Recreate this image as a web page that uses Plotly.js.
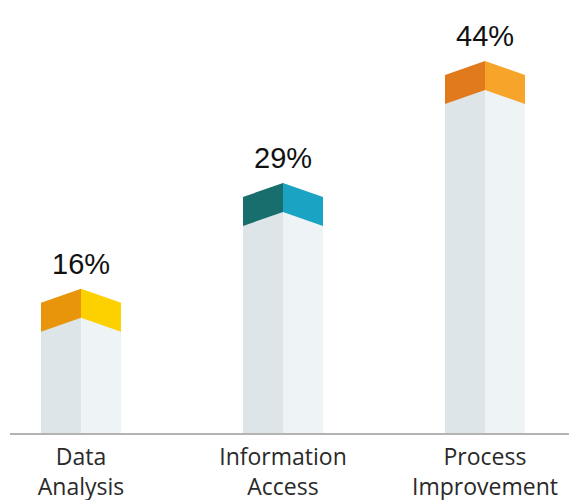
<!DOCTYPE html>
<html>
<head>
<meta charset="utf-8">
<script src="https://cdn.plot.ly/plotly-3.0.1.min.js"></script>
<style>html,body{margin:0;padding:0;background:#fff;}#chart{width:569px;height:500px;}</style>
</head>
<body>
<div id="chart"></div>
<script>
const categories = ["Data<br>Analysis", "Information<br>Access", "Process<br>Improvement"];
const values = [16, 29, 44];
const valueLabels = ["16%", "29%", "44%"];
const capLeftColors = ["#e8950c", "#186e6d", "#e07a1c"];
const capRightColors = ["#fdd100", "#1aa3c3", "#f6a52a"];

const W = 569, H = 500;
const margin = {l: 10, r: 0, t: 0, b: 67};
const plotH = H - margin.t - margin.b;
const yMax = 53.2;
const pxToY = yMax / plotH;
const rise = 14 * pxToY;      // chevron rise
const thick = 29 * pxToY;     // cap thickness
const half = 0.198;           // half bar width in x units
const xs = categories.map((_, i) => i);

const traces = [];
traces.push({
  type: "bar", x: xs, y: values, width: half, offset: -half,
  marker: {color: "#dee5e9", line: {width: 0}}, hoverinfo: "skip", showlegend: false
});
traces.push({
  type: "bar", x: xs, y: values, width: half, offset: 0,
  marker: {color: "#eef3f6", line: {width: 0}}, hoverinfo: "skip", showlegend: false
});
values.forEach((v, i) => {
  const c = xs[i];
  traces.push({
    type: "scatter", mode: "lines", fill: "toself",
    x: [c - half, c, c, c - half, c - half],
    y: [v, v + rise, v + rise - thick, v - thick, v],
    fillcolor: capLeftColors[i], line: {width: 0, color: capLeftColors[i]},
    hoverinfo: "skip", showlegend: false
  });
  traces.push({
    type: "scatter", mode: "lines", fill: "toself",
    x: [c, c + half, c + half, c, c],
    y: [v + rise, v, v - thick, v + rise - thick, v + rise],
    fillcolor: capRightColors[i], line: {width: 0, color: capRightColors[i]},
    hoverinfo: "skip", showlegend: false
  });
});

const annotations = values.map((v, i) => ({
  x: xs[i], y: v + rise, xref: "x", yref: "y",
  text: valueLabels[i], showarrow: false,
  xanchor: "center", yanchor: "bottom", yshift: 7,
  font: {family: "Liberation Sans, Arial, sans-serif", size: 29, color: "#111111"}
}));

const x0 = -(81 - margin.l) / 202;
const x1 = 2 + (W - 485) / 202;

const layout = {
  width: W, height: H, margin: margin,
  paper_bgcolor: "#ffffff", plot_bgcolor: "#ffffff",
  barmode: "overlay", showlegend: false,
  annotations: annotations,
  xaxis: {
    range: [x0, x1], tickvals: xs, ticktext: categories,
    showgrid: false, zeroline: false, showline: true,
    linecolor: "#b3b3b3", linewidth: 2, ticks: "",
    ticklabelstandoff: 2,
    tickfont: {family: "Open Sans, sans-serif", size: 23, color: "#2a2a2a"},
    fixedrange: true
  },
  yaxis: {
    range: [0, yMax], visible: false, showgrid: false, zeroline: false, fixedrange: true
  }
};
Plotly.newPlot("chart", traces, layout, {staticPlot: true, displayModeBar: false});
</script>
</body>
</html>
